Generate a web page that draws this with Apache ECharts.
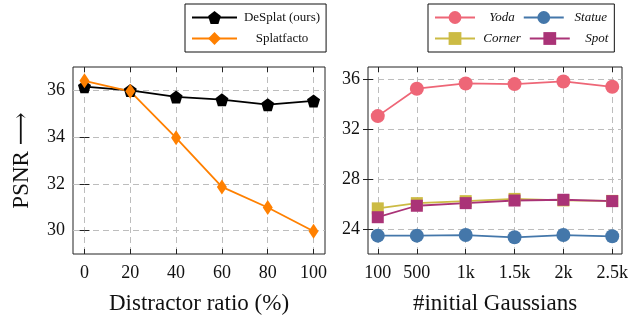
<!DOCTYPE html>
<html><head><meta charset="utf-8">
<script src="https://cdn.jsdelivr.net/npm/echarts@6/dist/echarts.min.js"></script>
<style>html,body{margin:0;padding:0;background:#fff}#c{width:638px;height:320px}</style>
</head><body><div id="c"></div>
<script>
// ---- data ----
const ratios = [0, 20, 40, 60, 80, 100];
const desplat = [36.16, 36.0, 35.72, 35.6, 35.39, 35.55];
const splatfacto = [36.41, 35.96, 33.97, 31.87, 30.99, 29.97];
const leftYTicks = [30, 32, 34, 36];

const gaussians = [100, 500, 1000, 1500, 2000, 2500];
const gaussianLabels = ['100', '500', '1k', '1.5k', '2k', '2.5k'];
const yoda = [33.06, 35.26, 35.68, 35.63, 35.84, 35.41];
const statue = [23.47, 23.47, 23.52, 23.34, 23.52, 23.42];
const corner = [25.66, 26.08, 26.24, 26.42, 26.3, 26.26];
const spot = [24.95, 25.87, 26.08, 26.29, 26.35, 26.24];
const rightYTicks = [24, 28, 32, 36];

// ---- style helpers ----
const FONT = '"Liberation Serif", "DejaVu Serif", serif';
const GRIDC = '#bdbdbd';
const pentagon = 'path://M0,-1 L0.951,-0.309 L0.588,0.809 L-0.588,0.809 L-0.951,-0.309 Z';
const pair = (xs, ys) => xs.map((x, i) => [x, ys[i]]);

const lab = {color: '#111', fontFamily: FONT, fontSize: 18};
const nameStyle = {color: '#111', fontFamily: FONT, fontSize: 23};

function mainX(gridIndex, min, max, step, values, fmt, name) {
  return {
    type: 'value', gridIndex, min, max, interval: step, position: 'bottom',
    name, nameLocation: 'middle', nameGap: 38, nameTextStyle: nameStyle,
    axisLine: {show: false},
    axisTick: {show: true, inside: true, length: 5, customValues: values, lineStyle: {color: '#222'}},
    axisLabel: {show: true, margin: 10, customValues: values, formatter: fmt, ...lab},
    splitLine: {show: true, lineStyle: {type: [6, 4], width: 1, color: GRIDC}}
  };
}
function topX(gridIndex, min, max, step, values) {
  return {
    type: 'value', gridIndex, min, max, interval: step, position: 'top',
    axisLine: {show: false},
    axisTick: {show: true, inside: true, length: 5, customValues: values, lineStyle: {color: '#222'}},
    axisLabel: {show: false}, splitLine: {show: false}
  };
}
function mainY(gridIndex, min, max, step, values, name) {
  return {
    type: 'value', gridIndex, min, max, interval: step, position: 'left',
    name, nameLocation: 'middle', nameGap: 40, nameTextStyle: nameStyle,
    axisLine: {show: false},
    axisTick: {show: true, inside: true, length: 5, customValues: values, lineStyle: {color: '#222'}},
    axisLabel: {show: true, margin: 8, customValues: values, ...lab},
    splitLine: {show: true, lineStyle: {type: [6, 4], width: 1, color: GRIDC}}
  };
}
function rightY(gridIndex, min, max, step, values) {
  return {
    type: 'value', gridIndex, min, max, interval: step, position: 'right',
    axisLine: {show: false},
    axisTick: {show: true, inside: true, length: 5, customValues: values, lineStyle: {color: '#222'}},
    axisLabel: {show: false}, splitLine: {show: false}
  };
}

function lineSeries(name, xs, ys, color, symbol, size, xi, yi) {
  return {
    name, type: 'line', xAxisIndex: xi, yAxisIndex: yi,
    data: pair(xs, ys), symbol, symbolSize: size, showAllSymbol: true,
    lineStyle: {color, width: 1.8}, itemStyle: {color},
    emphasis: {disabled: true}, animation: false
  };
}

const chart = echarts.init(document.getElementById('c'), null, {renderer: 'canvas'});
chart.setOption({
  animation: false,
  backgroundColor: '#fff',
  grid: [
    {left: 73, right: 313, top: 67, height: 189, show: true, borderColor: '#222', borderWidth: 1, backgroundColor: 'transparent'},
    {left: 368, right: 16, top: 67, height: 189, show: true, borderColor: '#222', borderWidth: 1, backgroundColor: 'transparent'}
  ],
  legend: [
    {
      data: ['DeSplat (ours)', 'Splatfacto'],
      orient: 'vertical', left: 185, top: 4,
      padding: [7, 6], itemGap: 8, itemWidth: 45, itemHeight: 16,
      borderColor: '#111', borderWidth: 1, selectedMode: false,
      formatter: n => '{c|' + n + '}',
      textStyle: {fontFamily: FONT, fontSize: 13, color: '#111',
        rich: {c: {width: 80, align: 'center', fontFamily: FONT, fontSize: 13, color: '#111'}}}
    },
    {
      data: ['Yoda', 'Statue', 'Corner', 'Spot'],
      orient: 'horizontal', left: 428, top: 4, width: 184,
      padding: [7, 6], itemGap: 8, itemWidth: 40, itemHeight: 16,
      borderColor: '#111', borderWidth: 1, selectedMode: false,
      formatter: n => '{c|' + n + '}',
      textStyle: {fontFamily: FONT, fontSize: 13, fontStyle: 'italic', color: '#111',
        rich: {c: {width: 44, align: 'center', fontFamily: FONT, fontSize: 13, fontStyle: 'italic', color: '#111'}}}
    }
  ],
  xAxis: [
    mainX(0, -5, 105, 5, ratios, v => String(v), 'Distractor ratio (%)'),
    topX(0, -5, 105, 5, ratios),
    mainX(1, 0, 2600, 100, gaussians, v => gaussianLabels[gaussians.indexOf(v)] ?? '', '#initial Gaussians'),
    topX(1, 0, 2600, 100, gaussians)
  ],
  yAxis: [
    mainY(0, 29, 37, 1, leftYTicks, 'PSNR \u27F6'),
    rightY(0, 29, 37, 1, leftYTicks),
    mainY(1, 22, 37, 1, rightYTicks, ''),
    rightY(1, 22, 37, 1, rightYTicks)
  ],
  series: [
    lineSeries('DeSplat (ours)', ratios, desplat, '#000000', pentagon, 13, 0, 0),
    lineSeries('Splatfacto', ratios, splatfacto, '#ff8000', 'diamond', [10, 15], 0, 0),
    lineSeries('Yoda', gaussians, yoda, '#ee6677', 'circle', 14, 2, 2),
    lineSeries('Statue', gaussians, statue, '#4477aa', 'circle', 14, 2, 2),
    lineSeries('Corner', gaussians, corner, '#ccbb44', 'rect', 12, 2, 2),
    lineSeries('Spot', gaussians, spot, '#aa3377', 'rect', 12, 2, 2)
  ]
});
</script></body></html>
